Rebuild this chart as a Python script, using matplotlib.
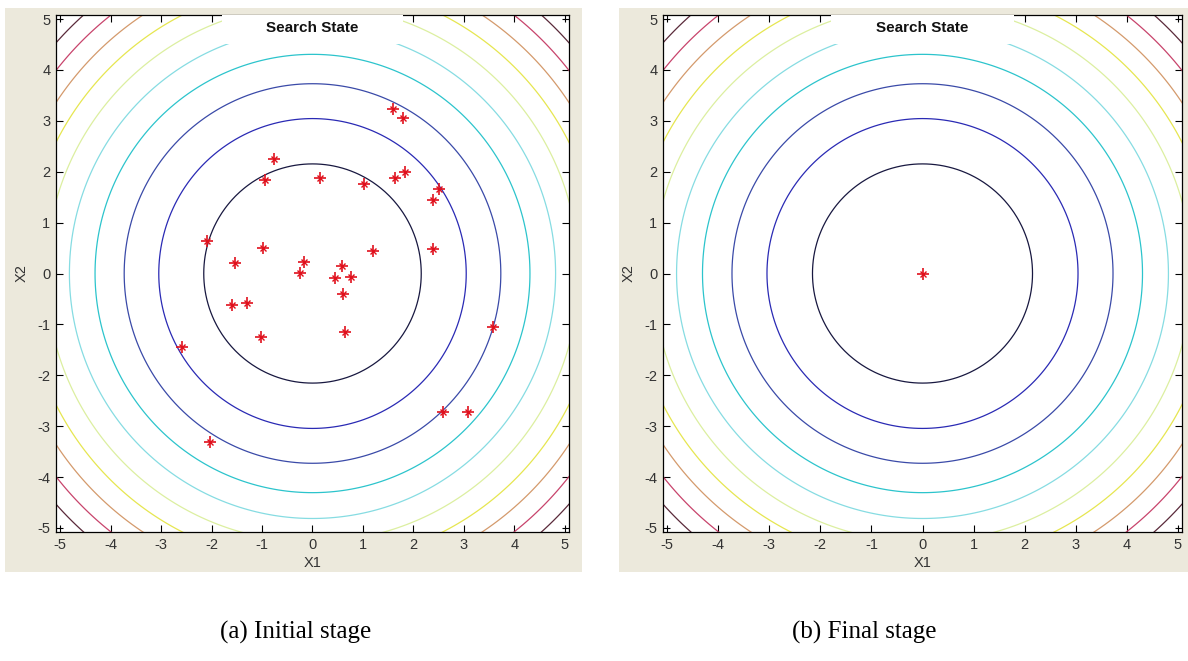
import numpy as np
import matplotlib.pyplot as plt
from matplotlib.patches import Rectangle

plt.rcParams['axes.unicode_minus'] = False

# population positions, initial stage
x1_init = [1.60, 1.79, -0.76, -0.95, 0.14, 1.02, 1.64, 1.84, 2.51, 2.39,
           2.38, 1.20, -2.09, -0.99, -1.53, -0.16, -0.24, 0.58, 0.45, 0.77,
           0.61, -1.59, -1.29, -1.02, 0.65, -2.59, 3.58, 2.59, 3.08, -2.03]
x2_init = [3.24, 3.06, 2.25, 1.84, 1.87, 1.76, 1.87, 1.99, 1.66, 1.44,
           0.48, 0.45, 0.64, 0.51, 0.21, 0.22, 0.01, 0.14, -0.09, -0.07,
           -0.40, -0.61, -0.58, -1.24, -1.14, -1.45, -1.06, -2.73, -2.73, -3.32]

# final stage (all converged to optimum)
x1_final = [0.0]
x2_final = [0.0]

contour_levels = [4.64, 9.27, 13.91, 18.55, 23.18, 27.82, 32.45, 37.09, 41.73, 46.36]
tick_vals = [-5, -4, -3, -2, -1, 0, 1, 2, 3, 4, 5]
captions = ['(a) Initial stage', '(b) Final stage']

# washed-out jet look of the old matlab figure
line_colors = ['#181840', '#2a2ab4', '#3a4aa8', '#2cc4cc', '#86dce2',
               '#dcefa0', '#e6e650', '#d49a6c', '#c8446c', '#5a2a3a']

W, H = 1188, 661
bg = '#ECE9DC'


def px_axes(fig, left, right, top, bottom):
    return fig.add_axes([left / W, (H - bottom) / H, (right - left) / W, (bottom - top) / H])


def draw_panel(ax, xs, ys):
    g = np.linspace(-5.1, 5.1, 121)
    X, Y = np.meshgrid(g, g)
    Z = X ** 2 + Y ** 2  # sphere function
    ax.contour(X, Y, Z, levels=contour_levels, colors=line_colors, linewidths=0.9)
    ax.add_patch(Rectangle((0.323, 0.943), 0.354, 0.06, transform=ax.transAxes,
                           facecolor='white', edgecolor='none', zorder=3))
    ax.text(0.5, 0.975, 'Search State', transform=ax.transAxes, ha='center', va='center',
            fontsize=11, fontweight='bold', family='Liberation Sans', color='#111111', zorder=4)
    ax.plot(xs, ys, '+', color='#e0101c', ms=9, mew=1.2, zorder=5)
    ax.plot(xs, ys, 'x', color='#e0101c', ms=5, mew=1.0, zorder=5)
    ax.set_xlim(-5.08, 5.08)
    ax.set_ylim(-5.08, 5.08)
    ax.set_xticks(tick_vals)
    ax.set_yticks(tick_vals)
    ax.tick_params(direction='in', top=True, right=True, length=5, width=0.8,
                   labelsize=10.5, labelcolor='#333333', pad=4)
    for lab in ax.get_xticklabels() + ax.get_yticklabels():
        lab.set_family('Liberation Sans')
    ax.set_xlabel('X1', fontsize=10.5, color='#333333', family='Liberation Sans', labelpad=3)
    ax.set_ylabel('X2', fontsize=10.5, color='#333333', family='Liberation Sans', labelpad=6)
    for s in ax.spines.values():
        s.set_linewidth(0.9)
    ax.set_facecolor('white')


fig = plt.figure(figsize=(W / 100, H / 100), dpi=100)
fig.patch.set_facecolor('white')
fig.add_artist(Rectangle((5 / W, (H - 572) / H), 577 / W, 564 / H, transform=fig.transFigure,
                         facecolor=bg, edgecolor='none', zorder=0))
fig.add_artist(Rectangle((619 / W, (H - 572) / H), 569 / W, 564 / H, transform=fig.transFigure,
                         facecolor=bg, edgecolor='none', zorder=0))

ax1 = px_axes(fig, 56, 569, 15, 532)
draw_panel(ax1, x1_init, x2_init)
ax2 = px_axes(fig, 663, 1182, 15, 532)
draw_panel(ax2, x1_final, x2_final)

fig.text(296 / W, (H - 632) / H, captions[0], ha='center', va='center', fontsize=18,
         family='Liberation Serif')
fig.text(864 / W, (H - 632) / H, captions[1], ha='center', va='center', fontsize=18,
         family='Liberation Serif')

fig.savefig('out.png', dpi=100, facecolor='white')
